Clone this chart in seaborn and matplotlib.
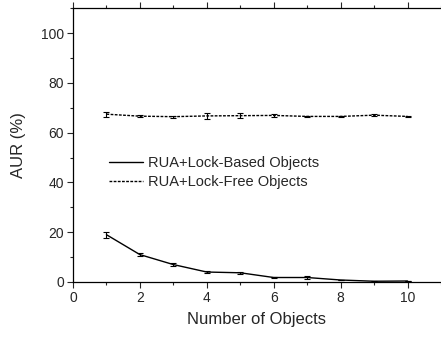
import matplotlib
matplotlib.use("Agg")
import matplotlib.pyplot as plt
import seaborn as sns
import pandas as pd
from matplotlib.ticker import MultipleLocator

objects = [1, 2, 3, 4, 5, 6, 7, 8, 9, 10]
lock_based = [19.0, 11.0, 7.0, 4.0, 3.7, 1.8, 1.8, 0.8, 0.3, 0.4]
lock_based_err = [1.2, 0.5, 0.7, 0.4, 0.3, 0.2, 0.6, 0.2, 0.2, 0.1]
lock_free = [67.4, 66.6, 66.4, 66.7, 66.8, 66.9, 66.5, 66.5, 67.0, 66.5]
lock_free_err = [1.0, 0.4, 0.4, 1.3, 0.9, 0.5, 0.3, 0.3, 0.3, 0.1]
series_names = ["RUA+Lock-Based Objects", "RUA+Lock-Free Objects"]

sns.set_style("ticks")
plt.rcParams['font.family'] = ['Liberation Sans', 'DejaVu Sans']

df = pd.DataFrame({
    "x": objects * 2,
    "y": lock_based + lock_free,
    "series": [series_names[0]] * len(objects) + [series_names[1]] * len(objects),
})

fig = plt.figure(figsize=(4.41, 3.38), dpi=100)
ax = fig.add_axes([0.1655, 0.1657, 0.8345, 0.8103])

sns.lineplot(data=df, x="x", y="y", hue="series", style="series",
             palette=["black", "black"], dashes=[(None, None), (2, 1)],
             linewidth=1.0, ax=ax)
ax.errorbar(objects, lock_based, yerr=lock_based_err, fmt='none', ecolor='black',
            elinewidth=0.8, capsize=2.5, capthick=0.8)
ax.errorbar(objects, lock_free, yerr=lock_free_err, fmt='none', ecolor='black',
            elinewidth=0.8, capsize=2.5, capthick=0.8)

ax.set_xlim(0, 11)
ax.set_ylim(0, 110)
ax.xaxis.set_major_locator(MultipleLocator(2))
ax.xaxis.set_minor_locator(MultipleLocator(1))
ax.yaxis.set_major_locator(MultipleLocator(20))
ax.yaxis.set_minor_locator(MultipleLocator(10))
ax.tick_params(axis='both', which='major', direction='out', length=4, width=0.8,
               labelsize=10, top=True, labeltop=False, right=False, pad=2.5)
ax.tick_params(axis='both', which='minor', direction='out', length=2, width=0.8,
               top=True, right=False)
ax.spines['right'].set_visible(False)
for s in ['left', 'bottom', 'top']:
    ax.spines[s].set_linewidth(0.9)
    ax.spines[s].set_color('black')

ax.set_xlabel("Number of Objects", fontsize=12, labelpad=5)
ax.set_ylabel("AUR (%)", fontsize=12, labelpad=11)

leg = ax.legend(loc='center left', bbox_to_anchor=(0.098, 0.40), frameon=False,
                fontsize=10.5, handlelength=2.3, handletextpad=0.35,
                labelspacing=0.3, borderpad=0, borderaxespad=0)
leg.set_title(None)

fig.savefig("out.png", dpi=100)
